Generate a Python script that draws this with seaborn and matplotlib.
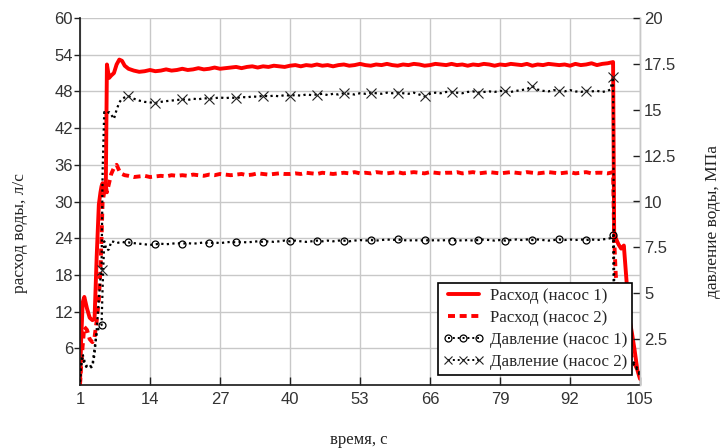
import matplotlib
matplotlib.use("Agg")
import matplotlib.pyplot as plt
from matplotlib.lines import Line2D
import pandas as pd
import seaborn as sns

# ---------------- data ----------------
t_head = [1.0, 1.2, 1.5, 1.8, 2.3, 2.8, 3.3, 3.7, 4.1, 4.5, 4.8, 5.0, 5.2,
          5.5, 5.8, 6.0, 6.4, 6.8, 7.3, 7.8, 8.3, 8.8, 9.3]
t_mid = list(range(10, 100))
t_tail = [99.5, 100.0, 100.2, 100.5, 101.0, 101.5, 102.0, 102.5, 103.0,
          103.5, 104.0, 104.5, 105.0]
time_s = t_head + t_mid + t_tail

# Расход (насос 1), л/с
flow1 = ([0.0, 7.0, 13.5, 14.4, 12.5, 11.0, 10.6, 10.8, 21.0, 29.5, 31.5, 32.5, 33.0,
          31.8, 33.2, 52.4, 50.2, 50.6, 51.0, 52.4, 53.2, 53.0, 52.2] +
         [51.7, 51.4, 51.2, 51.3, 51.5, 51.3, 51.4, 51.6, 51.4, 51.5,
          51.7, 51.5, 51.6, 51.8, 51.6, 51.7, 51.9, 51.7, 51.8, 51.9,
          52.0, 51.8, 52.0, 52.1, 51.9, 52.1, 52.0, 52.2, 52.1, 52.0,
          52.2, 52.3, 52.1, 52.3, 52.2, 52.4, 52.2, 52.3, 52.1, 52.3,
          52.4, 52.2, 52.3, 52.5, 52.3, 52.2, 52.4, 52.3, 52.5, 52.3,
          52.2, 52.4, 52.3, 52.5, 52.4, 52.2, 52.3, 52.5, 52.4, 52.3,
          52.5, 52.3, 52.4, 52.2, 52.4, 52.3, 52.5, 52.4, 52.2, 52.4,
          52.3, 52.5, 52.4, 52.3, 52.5, 52.2, 52.4, 52.3, 52.5, 52.4,
          52.3, 52.4, 52.2, 52.5, 52.3, 52.4, 52.6, 52.3, 52.5, 52.6] +
         [52.7, 52.8, 25.0, 24.0, 23.0, 22.3, 22.8, 17.0, 11.0, 8.5, 5.7, 2.5, 1.0])

# Расход (насос 2), л/с
flow2 = ([0.0, 3.0, 6.5, 9.5, 9.0, 7.5, 7.0, 7.8, 10.5, 14.0, 19.0, 24.0, 30.0,
          31.5, 32.5, 31.5, 33.0, 34.5, 35.5, 36.0, 35.0, 34.5, 34.3] +
         [34.2, 34.0, 34.1, 34.2, 34.0, 34.1, 34.2, 34.1, 34.3, 34.2,
          34.3, 34.2, 34.4, 34.3, 34.2, 34.4, 34.3, 34.5, 34.4, 34.3,
          34.4, 34.5, 34.3, 34.4, 34.6, 34.5, 34.4, 34.5, 34.6, 34.5,
          34.5, 34.6, 34.5, 34.7, 34.6, 34.5, 34.7, 34.6, 34.5, 34.6,
          34.7, 34.6, 34.8, 34.6, 34.7, 34.6, 34.8, 34.7, 34.6, 34.7,
          34.8, 34.6, 34.7, 34.8, 34.7, 34.6, 34.8, 34.7, 34.6, 34.7,
          34.7, 34.8, 34.6, 34.7, 34.8, 34.6, 34.7, 34.8, 34.7, 34.6,
          34.7, 34.8, 34.7, 34.6, 34.8, 34.7, 34.6, 34.7, 34.8, 34.7,
          34.6, 34.7, 34.8, 34.6, 34.7, 34.8, 34.6, 34.7, 34.7, 34.6] +
         [34.7, 34.8, 24.0, 18.0, 14.0, 11.0, 9.0, 7.5, 6.0, 4.5, 3.5, 2.5, 1.5])

# Давление (насос 1), МПа
press1 = ([0.17, 1.0, 1.5, 1.17, 0.93, 1.0, 1.07, 2.0, 2.83, 3.1, 3.2, 3.27, 5.33,
           7.83, 7.5, 7.33, 7.4, 7.83, 7.8, 7.73, 7.77, 7.8, 7.77] +
          [7.77, 7.73, 7.7, 7.67, 7.63, 7.67, 7.7, 7.67, 7.7, 7.73,
           7.7, 7.73, 7.7, 7.73, 7.77, 7.73, 7.77, 7.73, 7.77, 7.8,
           7.77, 7.8, 7.77, 7.8, 7.83, 7.8, 7.83, 7.8, 7.83, 7.87,
           7.83, 7.87, 7.83, 7.8, 7.83, 7.87, 7.83, 7.87, 7.83, 7.87,
           7.87, 7.83, 7.87, 7.9, 7.87, 7.9, 7.87, 7.9, 7.93, 7.9,
           7.93, 7.9, 7.87, 7.9, 7.87, 7.9, 7.87, 7.9, 7.87, 7.9,
           7.87, 7.9, 7.87, 7.9, 7.87, 7.9, 7.93, 7.9, 7.87, 7.9,
           7.87, 7.9, 7.93, 7.9, 7.93, 7.9, 7.93, 7.9, 7.87, 7.9,
           7.93, 7.9, 7.93, 7.9, 7.93, 7.9, 7.93, 7.9, 7.93, 7.97] +
          [8.0, 8.17, 3.0, 2.5, 2.17, 2.0, 1.83, 1.67, 1.5, 1.33, 1.17, 0.9, 0.6])

# Давление (насос 2), МПа
press2 = ([0.17, 1.17, 1.67, 1.33, 1.0, 0.93, 1.0, 1.67, 3.0, 4.67, 5.83, 6.27, 11.67,
           14.87, 14.83, 14.8, 14.87, 14.73, 14.5, 15.0, 15.4, 15.6, 15.67] +
          [15.73, 15.6, 15.5, 15.43, 15.4, 15.37, 15.43, 15.47, 15.5, 15.53,
           15.57, 15.53, 15.6, 15.57, 15.63, 15.6, 15.63, 15.67, 15.63, 15.67,
           15.63, 15.7, 15.67, 15.73, 15.7, 15.77, 15.73, 15.77, 15.73, 15.8,
           15.77, 15.8, 15.77, 15.83, 15.8, 15.83, 15.87, 15.8, 15.87, 15.83,
           15.9, 15.87, 15.83, 15.9, 15.87, 15.93, 15.9, 15.87, 15.93, 15.9,
           15.93, 15.9, 15.87, 15.93, 15.83, 15.73, 15.87, 15.93, 15.9, 15.97,
           15.97, 15.93, 15.9, 15.97, 16.0, 15.93, 15.97, 16.0, 15.97, 16.03,
           16.0, 15.97, 16.03, 16.07, 16.13, 16.27, 16.1, 16.03, 16.0, 16.07,
           16.03, 16.0, 16.07, 16.0, 15.97, 16.03, 16.0, 16.03, 15.97, 16.03] +
          [16.1, 16.77, 5.33, 3.33, 2.67, 2.33, 2.0, 1.67, 1.5, 1.33, 1.0, 0.83, 0.5])

marker_times = [5, 10, 15, 20, 25, 30, 35, 40, 45, 50, 55, 60, 65, 70, 75, 80,
                85, 90, 95, 100]

x_ticks = [1, 14, 27, 40, 53, 66, 79, 92, 105]
flow_ticks = [6, 12, 18, 24, 30, 36, 42, 48, 54, 60]
press_ticks = [2.5, 5, 7.5, 10, 12.5, 15, 17.5, 20]
press_tick_labels = ["2.5", "5", "7.5", "10", "12.5", "15", "17.5", "20"]

series_labels = ["Расход (насос 1)", "Расход (насос 2)",
                 "Давление (насос 1)", "Давление (насос 2)"]

# ---------------- plot ----------------
sns.set_theme(style="white")
plt.rcParams["font.family"] = ["Liberation Sans", "DejaVu Sans"]

df = pd.DataFrame({"t": time_s, "q1": flow1, "q2": flow2,
                   "p1": press1, "p2": press2})
mark_idx = [i for i, v in enumerate(time_s) if v in marker_times]

W, H = 723, 448
fig = plt.figure(figsize=(W / 100, H / 100), dpi=100)
L, R, T, B = 80, 640, 18, 385
ax = fig.add_axes([L / W, 1 - B / H, (R - L) / W, (B - T) / H])
ax2 = ax.twinx()

red = "#ff0000"
dash_style = (0, (1.8, 1.2))
dot_style = (0, (1.0, 1.5))

sns.lineplot(data=df, x="t", y="q1", ax=ax, color=red, lw=2.8,
             estimator=None, sort=False, legend=False)
sns.lineplot(data=df, x="t", y="q2", ax=ax, color=red, lw=2.8,
             linestyle=dash_style, estimator=None, sort=False, legend=False)
sns.lineplot(data=df, x="t", y="p1", ax=ax2, color="black", lw=1.6,
             linestyle=dot_style, marker="o", markevery=mark_idx, ms=5,
             mfc="none", mec="black", mew=0.9,
             estimator=None, sort=False, legend=False)
sns.lineplot(data=df, x="t", y="p2", ax=ax2, color="black", lw=1.6,
             linestyle=dot_style, marker="x", markevery=mark_idx, ms=6.5,
             mec="#222222", mew=0.8,
             estimator=None, sort=False, legend=False)

ax.set_xlim(1, 105)
ax.set_ylim(0, 60)
ax2.set_ylim(0, 20)
ax.set_xticks(x_ticks)
ax.set_xticklabels([str(v) for v in x_ticks])
ax.set_yticks(flow_ticks)
ax.set_yticklabels([str(v) for v in flow_ticks])
ax2.set_yticks(press_ticks)
ax2.set_yticklabels(press_tick_labels)
ax.set_xlabel("")
ax.set_ylabel("")
ax2.set_ylabel("")

grid_c = "#c8c8c8"
ax.grid(True, color=grid_c, lw=1.0)
ax.set_axisbelow(True)

for a in (ax, ax2):
    a.spines["top"].set_visible(False)
    a.spines["right"].set_color(grid_c)
    a.spines["right"].set_linewidth(1.0)
    a.spines["left"].set_color("#202020")
    a.spines["bottom"].set_color("#202020")
ax2.spines["left"].set_visible(False)
ax2.spines["bottom"].set_visible(False)

tick_font = 12
ax.tick_params(axis="x", direction="in", length=6, width=1, color="#202020",
               labelsize=tick_font, pad=5, labelcolor="#333333", bottom=True)
ax.tick_params(axis="y", direction="out", length=4, width=1, color="#202020",
               labelsize=tick_font, pad=1, labelcolor="#333333", left=True)
ax2.tick_params(axis="y", direction="in", length=5, width=1, color="#202020",
                labelsize=tick_font, pad=3, labelcolor="#333333", right=True)

serif = ["Liberation Serif", "DejaVu Serif"]
fig.text(20 / W, 1 - 233 / H, "расход воды, л/с", rotation=90, ha="center",
         va="center", family=serif, fontsize=12.5, color="#222222")
fig.text(713 / W, 1 - 222 / H, "давление воды, МПа", rotation=90, ha="center",
         va="center", family=serif, fontsize=12.5, color="#222222")
fig.text(359 / W, 1 - 440 / H, "время, с", ha="center", va="center",
         family=serif, fontsize=12, color="#222222")

handles = [
    Line2D([], [], color=red, lw=2.8),
    Line2D([], [], color=red, lw=2.8, linestyle=dash_style),
    Line2D([], [], color="black", lw=1.4, linestyle=dot_style, marker="o",
           ms=5, mfc="none", mec="black", mew=0.9),
    Line2D([], [], color="black", lw=1.4, linestyle=dot_style, marker="x",
           ms=6, mec="#222222", mew=0.8),
]
leg = ax2.legend(handles, series_labels, loc="lower right",
                 bbox_to_anchor=(0.986, 0.027), frameon=True, fancybox=False,
                 edgecolor="black", framealpha=1, numpoints=3,
                 prop={"family": serif, "size": 12.2}, handlelength=2.4,
                 handletextpad=0.35, borderpad=0.3, labelspacing=0.35,
                 borderaxespad=0)
leg.get_frame().set_linewidth(1.2)

fig.savefig("out.png", dpi=100)
